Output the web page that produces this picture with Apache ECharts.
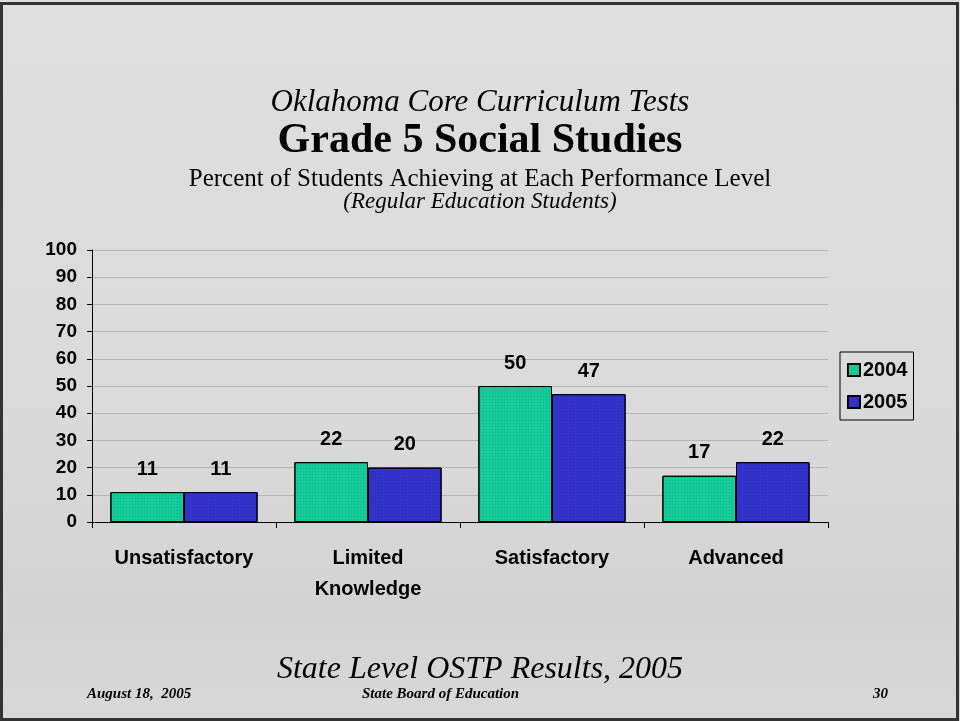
<!DOCTYPE html>
<html>
<head>
<meta charset="utf-8">
<script src="https://cdn.jsdelivr.net/npm/echarts@6/dist/echarts.min.js"></script>
<style>
  html, body { margin: 0; padding: 0; }
  #chart { width: 960px; height: 721px; }
</style>
</head>
<body>
<div id="chart"></div>
<script>
const categories = ['Unsatisfactory', 'Limited\nKnowledge', 'Satisfactory', 'Advanced'];
const years = ['2004', '2005'];
const values2004 = [11, 22, 50, 17];
const values2005 = [11, 20, 47, 22];
const yTicks = [0, 10, 20, 30, 40, 50, 60, 70, 80, 90, 100];

const chart = echarts.init(document.getElementById('chart'));

const serif = '"Liberation Serif", "DejaVu Serif", serif';
const sans = '"Liberation Sans", Arial, sans-serif';

const labelStyle = {
    show: true,
    position: 'top',
    distance: 13,
    color: '#000',
    fontFamily: sans,
    fontWeight: 'bold',
    fontSize: 20
};

// faint dot pattern like the original fill
const dots = {
    symbol: 'rect',
    symbolSize: 1,
    dashArrayX: [1, 2],
    dashArrayY: [1, 2],
    color: 'rgba(0,0,0,0.12)'
};

const option = {
    backgroundColor: {
        type: 'linear', x: 0, y: 0, x2: 0, y2: 1,
        colorStops: [
            {offset: 0, color: '#dedede'},
            {offset: 0.55, color: '#dadada'},
            {offset: 0.85, color: '#d3d3d3'},
            {offset: 1, color: '#d8d8d8'}
        ]
    },
    animation: false,
    graphic: [
        {
            type: 'rect',
            shape: {x: 1.5, y: 3.5, width: 956, height: 716},
            style: {fill: 'none', stroke: '#333', lineWidth: 3}
        }
    ],
    title: [
        {
            text: 'Oklahoma Core Curriculum Tests',
            left: 'center', top: 82,
            textStyle: {fontFamily: serif, fontStyle: 'italic', fontWeight: 'normal', fontSize: 31, color: '#000'}
        },
        {
            text: 'Grade 5 Social Studies',
            left: 'center', top: 115,
            textStyle: {fontFamily: serif, fontWeight: 'bold', fontSize: 42, color: '#000'}
        },
        {
            text: 'Percent of Students Achieving at Each Performance Level',
            left: 'center', top: 162,
            textStyle: {fontFamily: serif, fontWeight: 'normal', fontSize: 25, color: '#000'}
        },
        {
            text: '(Regular Education Students)',
            left: 'center', top: 185,
            textStyle: {fontFamily: serif, fontStyle: 'italic', fontWeight: 'normal', fontSize: 23, color: '#000'}
        },
        {
            text: 'State Level OSTP Results, 2005',
            left: 'center', top: 649,
            textStyle: {fontFamily: serif, fontStyle: 'italic', fontWeight: 'normal', fontSize: 32, color: '#000'}
        },
        {
            text: 'August 18,  2005',
            left: 82, top: 682,
            textStyle: {fontFamily: serif, fontStyle: 'italic', fontWeight: 'bold', fontSize: 15, color: '#000'}
        },
        {
            text: 'State Board of Education',
            left: 357, top: 682,
            textStyle: {fontFamily: serif, fontStyle: 'italic', fontWeight: 'bold', fontSize: 15, color: '#000'}
        },
        {
            text: '30',
            left: 868, top: 682,
            textStyle: {fontFamily: serif, fontStyle: 'italic', fontWeight: 'bold', fontSize: 15, color: '#000'}
        }
    ],
    legend: {
        data: years,
        orient: 'vertical',
        left: 840, top: 352,
        itemWidth: 12, itemHeight: 12,
        itemGap: 12,
        padding: [8, 6, 8, 7],
        borderColor: '#000', borderWidth: 1,
        icon: 'rect',
        textStyle: {fontFamily: sans, fontWeight: 'bold', fontSize: 20, color: '#000', padding: [0, 0, 0, -2]}
    },
    grid: {
        left: 92, right: 132, top: 250, bottom: 199,
        containLabel: false
    },
    xAxis: {
        type: 'category',
        data: categories,
        axisLine: {lineStyle: {color: '#000', width: 1}},
        axisTick: {show: true, length: 6, inside: false, lineStyle: {color: '#000'}},
        axisLabel: {
            margin: 21,
            fontFamily: sans, fontWeight: 'bold', fontSize: 20, color: '#000',
            lineHeight: 31
        }
    },
    yAxis: {
        type: 'value',
        min: 0, max: 100, interval: 10,
        axisLine: {show: true, lineStyle: {color: '#000', width: 1}},
        axisTick: {show: true, length: 5, lineStyle: {color: '#000'}},
        axisLabel: {
            margin: 15,
            fontFamily: sans, fontWeight: 'bold', fontSize: 19, color: '#000',
            formatter: function (v) { return yTicks.indexOf(v) >= 0 ? String(v) : ''; }
        },
        splitLine: {show: true, lineStyle: {color: '#b4b4b4', width: 1}}
    },
    series: [
        {
            name: years[0],
            type: 'bar',
            data: values2004,
            barGap: '0%',
            barCategoryGap: '20%',
            itemStyle: {color: '#14cc99', borderColor: '#000', borderWidth: 1, decal: dots},
            label: labelStyle
        },
        {
            name: years[1],
            type: 'bar',
            data: values2005,
            itemStyle: {color: '#3333cc', borderColor: '#000', borderWidth: 1, decal: dots},
            label: labelStyle
        }
    ]
};

chart.setOption(option);
window.addEventListener('resize', function () {
    chart.resize();
});
</script>
</body>
</html>
